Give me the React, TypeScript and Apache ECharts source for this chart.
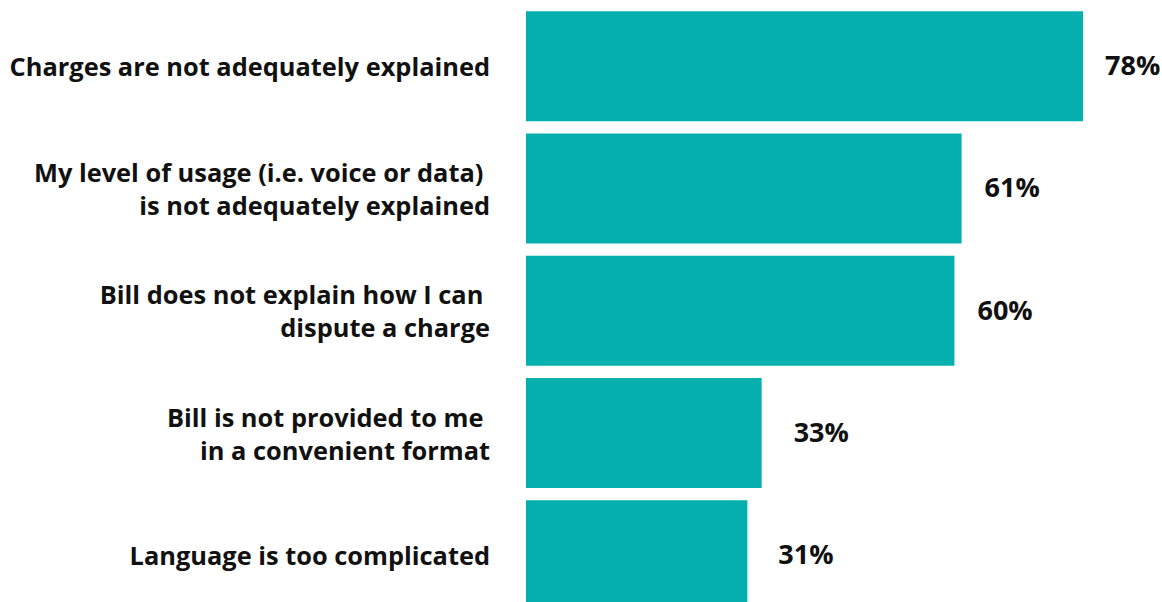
import React, { useEffect, useRef } from "react";
import * as echarts from "echarts";

const categories = [
  "Charges are not adequately explained",
  "My level of usage (i.e. voice or data) \nis not adequately explained",
  "Bill does not explain how I can \ndispute a charge",
  "Bill is not provided to me \nin a convenient format",
  "Language is too complicated",
];
const values = [78, 61, 60, 33, 31];
const labelDistances = [22, 23, 23, 32, 31];

export default function App() {
  const ref = useRef<HTMLDivElement>(null);
  useEffect(() => {
    const chart = echarts.init(ref.current!, null, { renderer: "svg" });
    const font = "Open Sans";
    chart.setOption({
      animation: false,
      grid: {
        left: 526,
        right: 79,
        top: 5,
        height: 611.5,
        containLabel: false,
        outerBoundsMode: "none",
      },
      xAxis: { type: "value", min: 0, max: 78, show: false },
      yAxis: {
        type: "category",
        data: categories,
        inverse: true,
        axisLine: { show: false },
        axisTick: { show: false },
        splitLine: { show: false },
        axisLabel: {
          margin: 36,
          color: "#111",
          fontFamily: font,
          fontWeight: "bold",
          fontSize: 25.4,
          lineHeight: 33,
          align: "right",
          padding: [0, 0, 6, 0],
          backgroundColor: "rgba(255,255,255,0)",
        },
      },
      series: [
        {
          type: "bar",
          barWidth: 110,
          data: values.map((v, i) => ({
            value: v,
            label: { distance: labelDistances[i] },
          })),
          itemStyle: { color: "#05AFAD" },
          label: {
            show: true,
            position: "right",
            formatter: "{c}%",
            color: "#111",
            fontFamily: font,
            fontWeight: "bold",
            fontSize: 27,
            offset: [0, -1.5],
          },
        },
      ],
    });
    return () => chart.dispose();
  }, []);
  return (
    <div
      ref={ref}
      style={{ position: "absolute", left: 0, top: 0, width: 1162, height: 602 }}
    />
  );
}
